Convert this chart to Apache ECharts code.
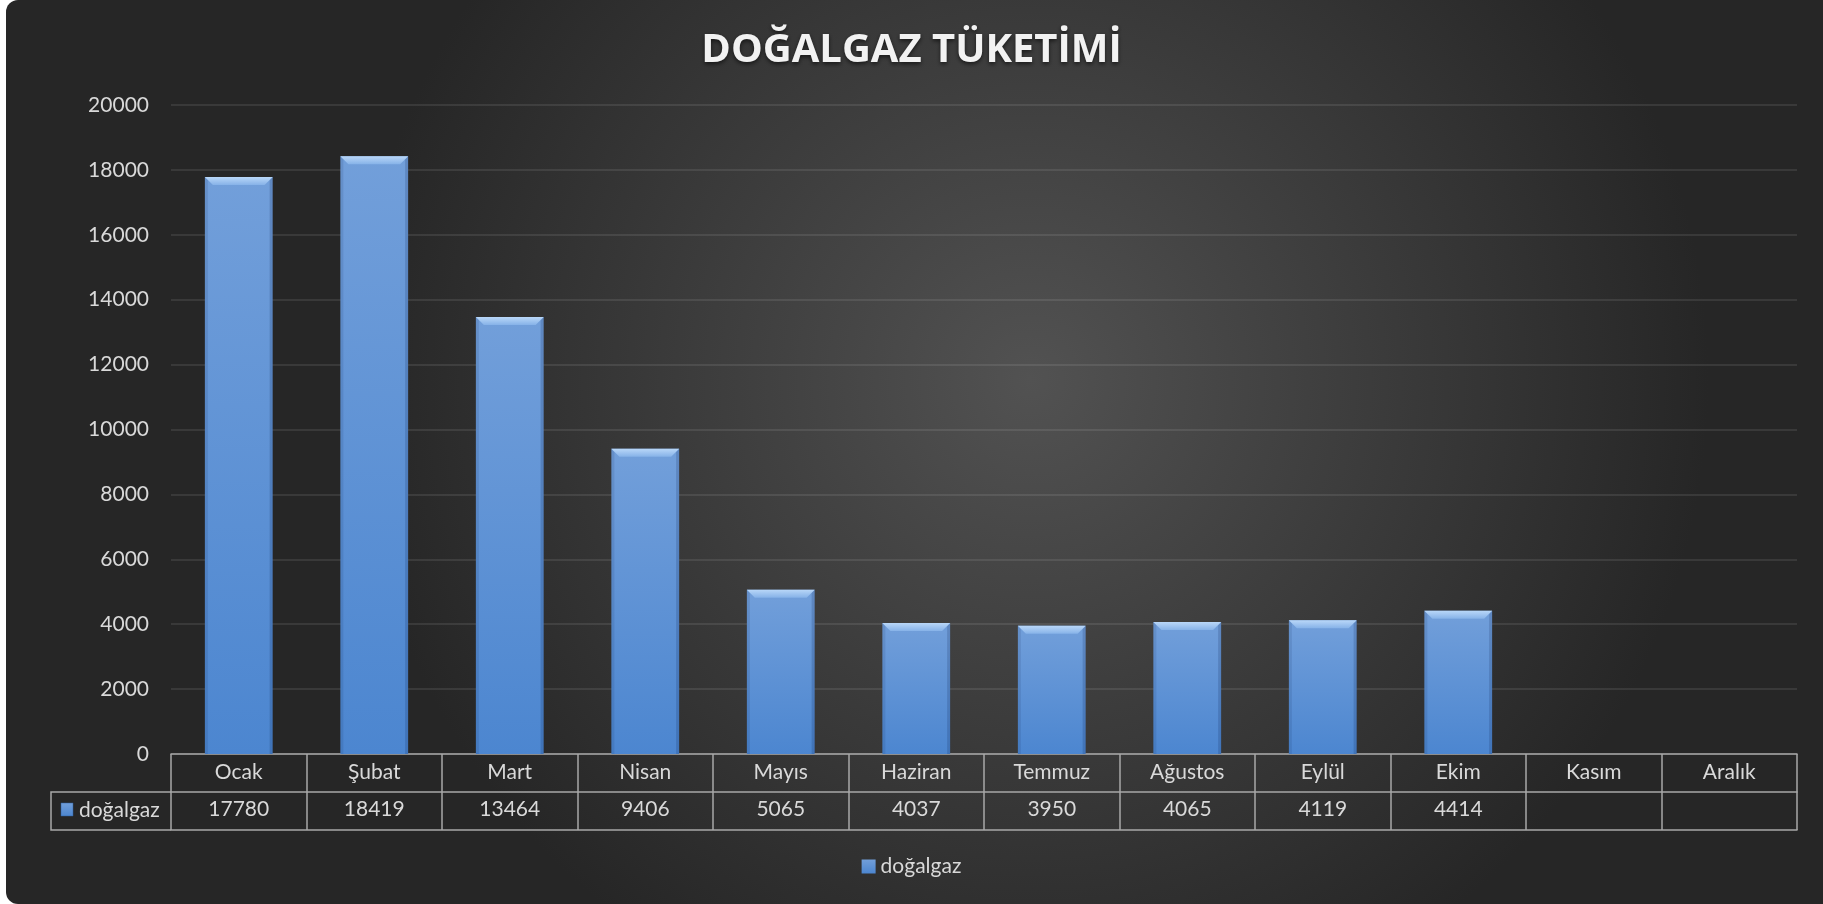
<!DOCTYPE html>
<html>
<head>
<meta charset="utf-8">
<title>Doğalgaz Tüketimi</title>
<script src="https://cdn.jsdelivr.net/npm/echarts@6/dist/echarts.min.js"></script>
<style>
  html, body { margin: 0; padding: 0; background: #ffffff; }
  #chart { width: 1823px; height: 904px; }
</style>
</head>
<body>
<div id="chart"></div>
<script>
// data
const months = ['Ocak', 'Şubat', 'Mart', 'Nisan', 'Mayıs', 'Haziran', 'Temmuz', 'Ağustos', 'Eylül', 'Ekim', 'Kasım', 'Aralık'];
const gas = [17780, 18419, 13464, 9406, 5065, 4037, 3950, 4065, 4119, 4414, null, null];
const seriesName = 'doğalgaz';
const yTicks = [0, 2000, 4000, 6000, 8000, 10000, 12000, 14000, 16000, 18000, 20000];

const FONT = 'Lato';
const FS = 21;
const TXT = '#d9d9d9';
const LINE = '#a8a8a8';

const barFill = new echarts.graphic.LinearGradient(0, 0, 0, 1, [
  { offset: 0, color: '#729fda' },
  { offset: 1, color: '#4c86d0' }
]);
const bevelTop = new echarts.graphic.LinearGradient(0, 0, 0, 1, [
  { offset: 0, color: '#b9d7f8' },
  { offset: 1, color: '#86b2e8' }
]);

const chart = echarts.init(document.getElementById('chart'), null, { renderer: 'canvas' });

// top bevel and soft side edges of each bar, placed through the axes
function bevel(params, api) {
  const v = api.value(1);
  if (v == null || isNaN(v)) return null;
  const top = api.coord([api.value(0), v]);
  const base = api.coord([api.value(0), 0])[1];
  const w = api.size([1, 0])[0] * 0.5;
  const x0 = top[0] - w / 2, x1 = top[0] + w / 2, y = top[1], b = 8;
  return {
    type: 'group',
    children: [
      { type: 'polygon', shape: { points: [[x0, y], [x0 + 3, y + 3], [x0 + 3, base], [x0, base]] },
        style: { fill: 'rgba(0,20,60,0.10)' } },
      { type: 'polygon', shape: { points: [[x1, y], [x1 - 3, y + 3], [x1 - 3, base], [x1, base]] },
        style: { fill: 'rgba(0,20,60,0.16)' } },
      { type: 'polygon', shape: { points: [[x0, y], [x1, y], [x1 - b, y + b], [x0 + b, y + b]] },
        style: { fill: bevelTop } }
    ]
  };
}

const option = {
  backgroundColor: 'transparent',
  textStyle: { fontFamily: FONT },
  graphic: [
    {
      type: 'rect', z: -10, silent: true,
      shape: { x: 6, y: 0, width: 1830, height: 904, r: 12 },
      style: {
        fill: new echarts.graphic.RadialGradient(0.56, 0.42, 0.75, [
          { offset: 0, color: '#525252' },
          { offset: 1, color: '#262626' }
        ])
      }
    },
    // legend key column of the data table
    { type: 'polyline', silent: true, shape: { points: [[171, 792], [51, 792], [51, 830], [171, 830]] },
      style: { stroke: LINE, lineWidth: 1.5, fill: null } },
    { type: 'rect', silent: true, shape: { x: 61, y: 803, width: 12, height: 13 },
      style: { fill: barFill, stroke: '#2f5f9e', lineWidth: 0.5 } },
    { type: 'text', silent: true, x: 79, y: 810,
      style: { text: seriesName, fill: TXT, font: FS + 'px ' + FONT, textVerticalAlign: 'middle' } }
  ],
  title: {
    text: 'DOĞALGAZ TÜKETİMİ',
    left: 'center',
    top: 26,
    textStyle: {
      color: '#f2f2f2', fontFamily: 'Open Sans', fontWeight: 'bold', fontSize: 40,
      textShadowColor: 'rgba(0,0,0,0.6)', textShadowBlur: 4, textShadowOffsetY: 2
    }
  },
  legend: {
    data: [seriesName],
    bottom: 22,
    left: 'center',
    icon: 'rect',
    itemWidth: 14,
    itemHeight: 14,
    itemGap: 6,
    textStyle: { color: TXT, fontSize: FS, fontFamily: FONT }
  },
  grid: { left: 171, right: 26, top: 105, bottom: 150, containLabel: false },
  xAxis: [
    {
      type: 'category', data: months, gridIndex: 0, position: 'bottom',
      axisLine: { show: true, lineStyle: { color: LINE, width: 1.5 } },
      axisTick: { show: true, interval: 0, length: 76, lineStyle: { color: LINE, width: 1.5 } },
      axisLabel: { color: TXT, fontSize: FS, margin: 8, interval: 0, fontFamily: FONT }
    },
    {
      type: 'category', data: gas.map(v => v == null ? '' : String(v)), gridIndex: 0,
      position: 'bottom', offset: 38,
      axisLine: { show: true, lineStyle: { color: LINE, width: 1.5 } },
      axisTick: { show: false },
      axisLabel: { color: TXT, fontSize: FS, margin: 7, interval: 0, fontFamily: FONT }
    },
    {
      type: 'category', data: months, gridIndex: 0, position: 'bottom', offset: 76,
      axisLine: { show: true, lineStyle: { color: LINE, width: 1.5 } },
      axisTick: { show: false },
      axisLabel: { show: false }
    }
  ],
  yAxis: {
    type: 'value',
    min: yTicks[0],
    max: yTicks[yTicks.length - 1],
    interval: yTicks[1] - yTicks[0],
    axisLine: { show: false },
    axisTick: { show: false },
    axisLabel: { color: TXT, fontSize: FS, margin: 22, fontFamily: FONT, formatter: v => String(v) },
    splitLine: { lineStyle: { color: 'rgba(255,255,255,0.09)', width: 2 } }
  },
  series: [
    {
      name: seriesName,
      type: 'bar',
      data: gas,
      barWidth: '50%',
      itemStyle: {
        color: barFill,
        shadowBlur: 7,
        shadowOffsetX: 2,
        shadowOffsetY: 0,
        shadowColor: 'rgba(0,0,0,0.55)'
      }
    },
    {
      name: 'bevel',
      type: 'custom',
      renderItem: bevel,
      data: gas.map((v, i) => [i, v]).filter(d => d[1] != null),
      encode: { x: 0, y: 1 },
      z: 3,
      silent: true
    }
  ]
};

chart.setOption(option);
</script>
</body>
</html>
